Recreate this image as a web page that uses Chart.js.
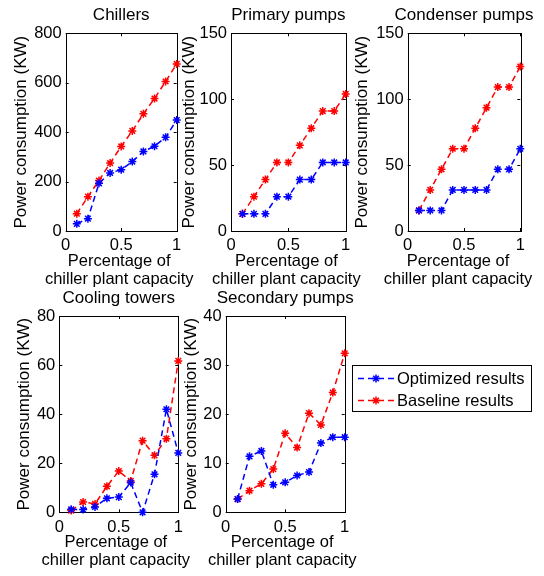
<!DOCTYPE html>
<html>
<head>
<meta charset="UTF-8">
<title>Power consumption</title>
<script src="https://cdn.jsdelivr.net/npm/chart.js"></script>
<style>
    body { margin: 0; background: #fff; width: 544px; height: 576px; position: relative; overflow: hidden;
           font-family: "Liberation Sans", Arial, sans-serif; }
    canvas.painel { position: absolute; }
    .legenda { position: absolute; left: 352px; top: 365px; width: 180px; height: 47px; box-sizing: border-box;
               border: 1px solid #000; background: #fff; }
    .item { position: absolute; left: 4px; height: 20px; display: flex; align-items: center; font-size: 16.5px; color: #000; white-space: nowrap; }
    .item canvas { margin-right: 2px; }
</style>
</head>
<body>

<div class="legenda" id="legenda"></div>

<script>
    // dados
    const capacidade = [0.1, 0.2, 0.3, 0.4, 0.5, 0.6, 0.7, 0.8, 0.9, 1.0];
    const nomesSeries = ['Optimized results', 'Baseline results'];
    const coresSeries = ['#0000ff', '#ff0000'];
    const titulos = ['Chillers', 'Primary pumps', 'Condenser pumps', 'Cooling towers', 'Secondary pumps'];
    const yTitulo = 'Power consumption (KW)';
    const xTitulo = ['Percentage of', 'chiller plant capacity'];
    const xTicks = [0, 0.5, 1];

    const chillersOtim = [29, 50, 193, 235, 248, 281, 322, 343, 379, 449];
    const chillersBase = [70, 139, 204, 275, 342, 405, 474, 536, 605, 676];
    const primariasOtim = [13, 13, 13, 26, 26, 39, 39, 52, 52, 52];
    const primariasBase = [13, 26, 39, 52, 52, 65, 78, 91, 91, 104];
    const condensOtim = [15.6, 15.6, 15.6, 31.2, 31.2, 31.2, 31.2, 46.8, 46.8, 62.4];
    const condensBase = [15.6, 31.2, 46.8, 62.4, 62.4, 78, 93.6, 109.2, 109.2, 124.8];
    const torresOtim = [1.2, 1.1, 2.2, 5.7, 6.2, 12.1, 0, 15.5, 42, 24.2];
    const torresBase = [0.7, 4.2, 3.4, 10.6, 16.8, 12.8, 29.2, 23.2, 30, 61.7];
    const secundOtim = [2.7, 11.4, 12.5, 5.6, 6.1, 7.5, 8.2, 14.1, 15.3, 15.3];
    const secundBase = [2.7, 4.4, 5.8, 8.8, 16.1, 13.2, 20.2, 17.8, 24.4, 32.4];

    const yMaximos = [800, 150, 150, 80, 40];
    const yPassos = [200, 50, 50, 20, 10];
    const seriesOtim = [chillersOtim, primariasOtim, condensOtim, torresOtim, secundOtim];
    const seriesBase = [chillersBase, primariasBase, condensBase, torresBase, secundBase];

    // posicao de cada area de plotagem (px na pagina)
    const layoutPaineis = [
        { l: 65.7, t: 33.3, r: 176.7, b: 231, yTit: 22, xOff: -2, distTitulo: 17.5 },
        { l: 231, t: 33.3, r: 345.7, b: 231, yTit: 190, xOff: -2, distTitulo: 17.5 },
        { l: 407.7, t: 33.3, r: 520.3, b: 231, yTit: 363, xOff: -6, distTitulo: 17.5 },
        { l: 59.3, t: 316, r: 178.3, b: 512.3, yTit: 25, xOff: -3, distTitulo: 18 },
        { l: 225.7, t: 316, r: 344.7, b: 512.3, yTit: 192, xOff: -3, distTitulo: 18 }
    ];
    const linhasX = [30, 48.5];

    const fonte = '"Liberation Sans", Arial, sans-serif';
    Chart.defaults.font.family = fonte;
    Chart.defaults.color = '#000';

    // moldura com marcas para dentro, como no matlab
    const moldura = {
        id: 'moldura',
        beforeDatasetsDraw(chart) {
            const { ctx, chartArea: a, scales } = chart;
            ctx.save();
            ctx.strokeStyle = '#000';
            ctx.lineWidth = 1;
            ctx.strokeRect(Math.round(a.left) + 0.5, Math.round(a.top) + 0.5,
                Math.round(a.right - a.left), Math.round(a.bottom - a.top));
            ctx.beginPath();
            scales.x.ticks.forEach(t => {
                const px = Math.round(scales.x.getPixelForValue(t.value)) + 0.5;
                ctx.moveTo(px, a.bottom); ctx.lineTo(px, a.bottom - 3);
                ctx.moveTo(px, a.top); ctx.lineTo(px, a.top + 3);
            });
            scales.y.ticks.forEach(t => {
                const py = Math.round(scales.y.getPixelForValue(t.value)) + 0.5;
                ctx.moveTo(a.left, py); ctx.lineTo(a.left + 3, py);
                ctx.moveTo(a.right, py); ctx.lineTo(a.right - 3, py);
            });
            ctx.stroke();
            ctx.restore();
        }
    };

    // titulo e titulo do eixo x centrados na area de plotagem, sem encolher o texto
    const rotulos = {
        id: 'rotulos',
        afterDraw(chart, args, opts) {
            const { ctx, chartArea: a } = chart;
            const cx = (a.left + a.right) / 2;
            ctx.save();
            ctx.fillStyle = '#000';
            ctx.textAlign = 'center';
            ctx.textBaseline = 'middle';
            ctx.font = '17px ' + fonte;
            ctx.fillText(opts.titulo, cx, a.top - opts.distTitulo);
            ctx.font = '16.5px ' + fonte;
            opts.xTitulo.forEach((txt, k) => {
                ctx.fillText(txt, cx + opts.xOff, a.bottom + opts.linhasX[k]);
            });
            ctx.restore();
        }
    };

    function serie(nome, valores, cor) {
        return {
            label: nome,
            data: capacidade.map((x, i) => ({ x: x, y: valores[i] })),
            borderColor: cor,
            backgroundColor: cor,
            borderWidth: 1.5,
            borderDash: [6, 4],
            pointStyle: 'star',
            pointRadius: 4,
            pointBorderWidth: 1.5,
            pointBorderColor: cor,
            tension: 0,
            fill: false,
            clip: false
        };
    }

    function criarGrafico(i) {
        const p = layoutPaineis[i];

        const esquerda = Math.floor(p.yTit - 10.2);
        const topo = Math.floor(p.t - 30);
        const yW = p.l - esquerda;
        const xH = linhasX[1] + 10;
        const largura = Math.ceil(yW + (p.r - p.l) + 24);
        const altura = Math.ceil((p.b - topo) + xH);

        const canvas = document.createElement('canvas');
        canvas.className = 'painel';
        canvas.width = largura;
        canvas.height = altura;
        canvas.style.left = esquerda + 'px';
        canvas.style.top = topo + 'px';
        document.body.appendChild(canvas);

        new Chart(canvas, {
            type: 'line',
            data: {
                datasets: [
                    serie(nomesSeries[0], seriesOtim[i], coresSeries[0]),
                    serie(nomesSeries[1], seriesBase[i], coresSeries[1])
                ]
            },
            options: {
                responsive: false,
                animation: false,
                events: [],
                layout: {
                    padding: {
                        top: p.t - topo,
                        left: 0,
                        right: largura - yW - (p.r - p.l),
                        bottom: altura - (p.b - topo) - xH
                    }
                },
                plugins: {
                    legend: { display: false },
                    tooltip: { enabled: false },
                    title: { display: false },
                    rotulos: {
                        titulo: titulos[i],
                        distTitulo: p.distTitulo,
                        xTitulo: xTitulo,
                        linhasX: linhasX,
                        xOff: p.xOff
                    }
                },
                scales: {
                    x: {
                        type: 'linear',
                        min: 0, max: 1,
                        afterBuildTicks: s => { s.ticks = xTicks.map(v => ({ value: v })); },
                        ticks: {
                            font: { size: 16.5 }, padding: 5, maxRotation: 0, color: '#000',
                            callback: v => String(v)
                        },
                        grid: { display: false, drawTicks: false },
                        border: { display: false },
                        title: { display: false },
                        afterFit: s => { s.height = xH; }
                    },
                    y: {
                        min: 0, max: yMaximos[i],
                        ticks: { stepSize: yPassos[i], font: { size: 16.5 }, padding: 4, color: '#000' },
                        grid: { display: false, drawTicks: false },
                        border: { display: false },
                        title: {
                            display: true,
                            text: yTitulo,
                            font: { size: 17, lineHeight: 1.2 },
                            padding: { top: 0, bottom: 0 },
                            color: '#000'
                        },
                        afterFit: s => { s.width = yW; }
                    }
                }
            },
            plugins: [moldura, rotulos]
        });
    }

    for (let i = 0; i < titulos.length; i++) {
        criarGrafico(i);
    }

    // legenda
    function desenharAmostra(cv, cor) {
        const ctx = cv.getContext('2d');
        ctx.strokeStyle = cor;
        ctx.lineWidth = 1.5;
        ctx.setLineDash([6, 4]);
        ctx.beginPath();
        ctx.moveTo(1, 6.5); ctx.lineTo(37, 6.5);
        ctx.stroke();
        ctx.setLineDash([]);
        ctx.beginPath();
        const cx = 19, cy = 6.5, r = 4;
        for (let k = 0; k < 4; k++) {
            const ang = k * Math.PI / 4;
            ctx.moveTo(cx - r * Math.cos(ang), cy - r * Math.sin(ang));
            ctx.lineTo(cx + r * Math.cos(ang), cy + r * Math.sin(ang));
        }
        ctx.stroke();
    }

    const legenda = document.getElementById('legenda');
    nomesSeries.forEach((nome, k) => {
        const item = document.createElement('div');
        item.className = 'item';
        item.style.top = (2 + k * 22) + 'px';
        const cv = document.createElement('canvas');
        cv.width = 38; cv.height = 13;
        desenharAmostra(cv, coresSeries[k]);
        const txt = document.createElement('span');
        txt.textContent = nome;
        item.appendChild(cv);
        item.appendChild(txt);
        legenda.appendChild(item);
    });
</script>
</body>
</html>
